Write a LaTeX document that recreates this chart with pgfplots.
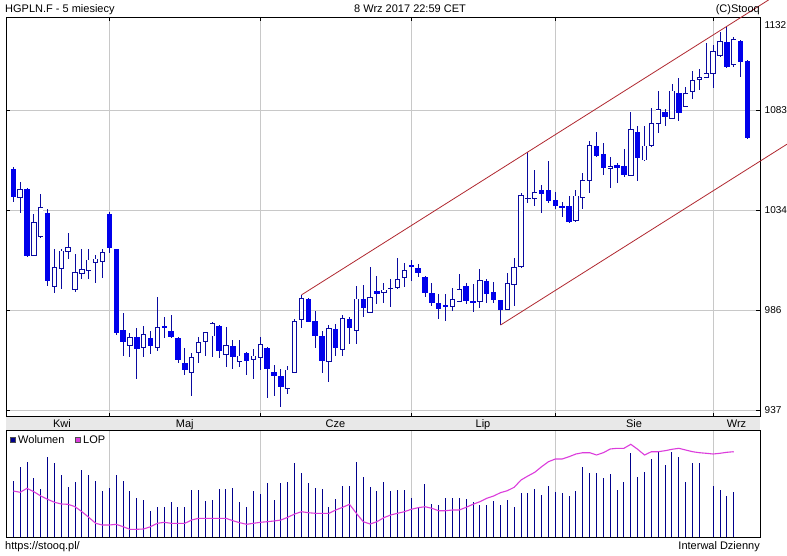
\documentclass[border=0pt]{standalone}
\usepackage{fontspec}
\setmainfont{Liberation Sans}
\usepackage{pgfplots}
\usepackage{pgfplotstable}
\pgfplotsset{compat=1.18}

\definecolor{wick}{RGB}{10,10,160}
\definecolor{bodyfill}{RGB}{0,0,235}
\definecolor{chan}{RGB}{176,40,48}
\definecolor{gridc}{RGB}{200,200,200}
\definecolor{volc}{RGB}{0,0,140}
\definecolor{lopc}{RGB}{220,60,220}
\definecolor{strip}{RGB}{232,232,232}
\newcommand\lbl{\fontsize{11}{13}\selectfont}
\newcommand\tlbl{\fontsize{10}{12}\selectfont}

% i = session index, o h l c = open high low close
\pgfplotstableread{
i o h l c
0 1054.3 1055.6 1038.5 1040.7
1 1040.7 1048.3 1033.2 1044.6
2 1044.6 1045.1 1011.7 1012.2
3 1012.2 1032.6 1011.9 1028.5
4 1021.5 1042.2 1021.0 1035.8
5 1033.2 1034.8 997.4 1000.0
6 997.4 1015.3 993.9 1006.6
7 1006.1 1015.3 995.8 1014.5
8 1014.5 1023.4 1010.8 1016.3
9 995.8 1013.0 994.7 1003.9
10 1003.6 1015.3 1000.7 1005.6
11 1005.2 1015.3 1000.7 1010.1
12 1009.0 1012.6 998.8 1010.6
13 1009.5 1015.3 1001.2 1013.9
14 1032.6 1033.7 1013.4 1015.8
15 1015.3 1015.7 973.6 974.4
16 976.0 984.4 963.5 970.0
17 968.3 974.7 963.0 972.4
18 972.4 976.8 952.1 966.6
19 967.4 977.9 963.0 973.6
20 972.0 975.5 964.2 968.3
21 967.6 991.9 965.9 977.3
22 977.9 982.2 972.2 977.1
23 975.5 983.3 972.0 972.7
24 972.0 972.4 960.1 961.4
25 960.1 967.1 954.1 956.5
26 955.4 964.9 943.8 962.7
27 964.9 972.7 960.1 970.0
28 970.3 975.2 963.3 974.7
29 973.1 979.8 963.0 979.3
30 977.9 978.4 962.5 965.9
31 964.3 977.6 957.8 968.2
32 968.2 971.1 956.8 963.0
33 960.5 971.1 958.1 963.3
34 964.9 965.4 954.1 961.0
35 961.7 966.6 952.3 963.3
36 962.7 972.4 956.5 968.7
37 967.1 967.5 942.7 956.8
38 955.4 958.9 943.8 953.7
39 953.6 956.8 938.6 948.4
40 947.6 958.4 944.7 956.5
41 955.4 981.2 955.0 980.0
42 981.2 993.1 976.8 991.5
43 991.1 991.5 979.8 980.0
44 980.4 985.3 967.4 973.2
45 973.1 975.7 954.9 961.0
46 960.5 978.4 950.8 976.8
47 976.5 978.9 963.3 967.4
48 966.6 983.3 963.3 981.7
49 981.4 982.2 969.2 977.1
50 976.0 997.4 969.2 991.1
51 991.1 997.9 982.5 986.9
52 984.6 1006.9 984.3 991.9
53 995.0 1002.3 988.5 993.4
54 994.2 999.1 989.0 995.5
55 996.3 1000.7 987.4 996.4
56 996.6 1011.2 995.8 1000.7
57 1001.7 1008.5 997.1 1005.2
58 1007.7 1010.1 1000.0 1006.9
59 1006.1 1008.2 1002.0 1003.6
60 1001.7 1002.3 992.2 993.9
61 993.9 999.1 987.8 989.0
62 989.0 993.5 981.4 986.1
63 988.2 993.4 980.5 987.4
64 987.4 996.6 985.3 991.0
65 990.1 1003.3 989.8 995.8
66 997.4 998.8 988.7 990.3
67 990.1 998.3 984.6 989.0
68 989.8 1005.7 986.6 999.9
69 999.9 1000.9 989.0 993.4
70 994.5 999.3 989.0 990.6
71 990.6 990.8 978.4 985.7
72 986.2 1003.6 985.7 998.8
73 998.3 1011.0 987.7 1006.6
74 1006.9 1042.6 1006.2 1041.5
75 1040.2 1062.6 1037.8 1040.3
76 1040.2 1054.0 1036.6 1043.1
77 1044.3 1046.7 1032.9 1042.2
78 1044.3 1058.4 1038.1 1039.0
79 1039.4 1043.4 1034.8 1036.6
80 1036.2 1038.5 1031.2 1036.0
81 1036.4 1041.3 1028.3 1028.8
82 1029.6 1044.3 1028.6 1041.3
83 1040.7 1052.4 1034.8 1048.8
84 1048.8 1068.1 1042.6 1065.8
85 1065.7 1072.7 1060.2 1061.0
86 1061.7 1067.2 1051.6 1054.8
87 1054.8 1060.2 1045.1 1055.9
88 1056.4 1057.6 1047.5 1054.8
89 1055.9 1064.1 1050.4 1051.6
90 1051.2 1082.4 1050.9 1073.5
91 1072.4 1075.4 1048.8 1059.7
92 1058.9 1075.4 1058.5 1065.7
93 1066.2 1084.1 1065.1 1076.8
94 1076.8 1092.5 1072.2 1083.3
95 1082.1 1083.6 1075.4 1080.0
96 1079.2 1095.9 1078.7 1092.5
97 1091.4 1098.7 1078.0 1081.9
98 1084.9 1094.6 1084.6 1091.4
99 1092.5 1102.4 1088.5 1097.5
100 1098.2 1103.1 1093.0 1099.2
101 1099.2 1115.8 1099.0 1101.1
102 1101.1 1114.9 1094.1 1111.7
103 1109.7 1121.4 1108.9 1116.5
104 1116.3 1123.6 1103.6 1104.4
105 1105.5 1118.7 1104.4 1117.7
106 1116.9 1117.4 1099.2 1106.8
107 1107.1 1107.6 1069.0 1069.5
}\candles

% volume and open interest (LOP)
\pgfplotstableread{
i v lop
0 56 46.0
1 70 44.7
2 75 48.7
3 59 45.3
4 48 41.0
5 80 37.7
6 74 34.7
7 62 33.0
8 50 32.7
9 55 30.3
10 67 25.3
11 62 19.7
12 56 13.7
13 46 12.0
14 49 12.0
15 62 12.7
16 56 10.3
17 46 7.7
18 39 7.7
19 37 8.0
20 26 10.3
21 30 13.7
22 30 14.7
23 35 13.7
24 30 13.7
25 30 13.7
26 47 17.0
27 47 18.7
28 36 18.7
29 37 18.7
30 48 18.7
31 48 18.7
32 49 16.3
33 35 14.3
34 30 12.7
35 46 13.7
36 43 14.7
37 54 15.3
38 37 16.0
39 54 17.0
40 55 19.7
41 74 23.0
42 64 25.3
43 54 24.3
44 49 23.7
45 48 23.7
46 30 23.7
47 38 27.0
48 51 29.7
49 51 32.7
50 75 23.7
51 60 15.3
52 50 13.0
53 46 15.3
54 55 19.3
55 46 22.0
56 47 23.7
57 47 25.3
58 39 27.7
59 30 29.3
60 53 30.3
61 33 28.7
62 32 26.3
63 39 26.3
64 39 27.0
65 39 27.0
66 38 29.7
67 35 32.7
68 32 35.3
69 32 38.7
70 36 41.0
71 32 44.3
72 37 46.3
73 30 49.7
74 44 57.0
75 44 61.0
76 48 64.7
77 42 70.3
78 51 75.3
79 45 78.0
80 44 78.0
81 41 80.3
82 46 83.0
83 70 84.3
84 64 84.3
85 64 82.0
86 59 84.3
87 63 88.0
88 47 88.7
89 55 88.7
90 84 92.7
91 60 87.7
92 65 82.0
93 78 85.3
94 85 85.3
95 72 86.3
96 85 87.7
97 80 88.7
98 55 87.0
99 74 85.3
100 74 84.3
101 nan 83.7
102 51 83.0
103 47 83.7
104 41 84.7
105 45 85.3
}\vol

\begin{document}
\begin{tikzpicture}[x=1pt,y=1pt]
\useasboundingbox (0,0) rectangle (787,555);
\fill[white] (0,0) rectangle (787,555);
\fill[strip] (6,125) rectangle (760,138.5);

\begin{axis}[
  at={(6pt,138.5pt)}, anchor=south west,
  scale only axis, width=754pt, height=399.5pt,
  xmin=-1.064, xmax=108.83, ymin=933.83, ymax=1128.59,
  clip=false,
  axis line style={line width=0.8pt},
  xtick={14,36,58,79,102}, xticklabels={},
  ytick={937,985.75,1034.5,1083.25},
  yticklabels={\mbox{937},\mbox{986},\mbox{1034},\mbox{1083}},
  yticklabel pos=right,
  yticklabel style={anchor=west, inner sep=0pt, xshift=4.5pt, font=\tlbl},
  grid=major, grid style={gridc, line width=0.8pt},
  tick style={black, line width=0.6pt},
  major tick length=4pt, tick align=inside,
]
% wicks
\addplot[draw=none, mark=none, forget plot,
  error bars/.cd, y dir=both, y explicit, error mark=none,
  error bar style={line width=0.9pt, draw=wick, solid}]
  table[x=i, y expr={(\thisrow{h}+\thisrow{l})/2},
        y error expr={(\thisrow{h}-\thisrow{l})/2}] {\candles};
% rising sessions: outline, then white inside
\addplot[draw=none, mark=none, forget plot,
  restrict expr to domain={\thisrow{c}-\thisrow{o}}{0:1000},
  error bars/.cd, y dir=both, y explicit, error mark=none,
  error bar style={line width=5.4pt, draw=wick, solid}]
  table[x=i, y expr={(\thisrow{o}+\thisrow{c})/2},
        y error expr={(\thisrow{c}-\thisrow{o})/2+0.25}] {\candles};
\addplot[draw=none, mark=none, forget plot,
  restrict expr to domain={\thisrow{c}-\thisrow{o}}{0:1000},
  error bars/.cd, y dir=both, y explicit, error mark=none,
  error bar style={line width=3.6pt, draw=white, solid}]
  table[x=i, y expr={(\thisrow{o}+\thisrow{c})/2},
        y error expr={max((\thisrow{c}-\thisrow{o})/2-0.2,0)}] {\candles};
% falling sessions: filled
\addplot[draw=none, mark=none, forget plot,
  restrict expr to domain={\thisrow{o}-\thisrow{c}}{0.01:1000},
  error bars/.cd, y dir=both, y explicit, error mark=none,
  error bar style={line width=5.4pt, draw=bodyfill, solid}]
  table[x=i, y expr={(\thisrow{o}+\thisrow{c})/2},
        y error expr={max((\thisrow{o}-\thisrow{c})/2,0.4)}] {\candles};
% trend channel
\addplot[chan, line width=0.8pt, mark=none] coordinates {(42,993.1) (110.08,1136.9)};
\addplot[chan, line width=0.8pt, mark=none] coordinates {(71,978.4) (112.77,1066.6)};
\end{axis}

\begin{axis}[
  at={(6pt,18pt)}, anchor=south west,
  scale only axis, width=754pt, height=107pt,
  xmin=-1.064, xmax=108.83, ymin=0, ymax=107,
  axis line style={line width=0.8pt},
  xtick={14,36,58,79,102}, xticklabels={}, ytick=\empty,
  xmajorgrids, grid style={gridc, line width=0.8pt},
  major tick length=0pt,
]
\addplot[ycomb, volc, line width=1pt, mark=none] table[x=i, y=v] {\vol};
\addplot[lopc, line width=1.1pt, mark=none] table[x=i, y=lop] {\vol};
\end{axis}

\begin{scope}[every node/.style={inner sep=0pt, font=\lbl}]
\node[anchor=base west] at (5,542) {HGPLN.F - 5 miesiecy};
\node[anchor=base] at (410,542) {8 Wrz 2017 22:59 CET};
\node[anchor=base east] at (760,542) {(C)Stooq};
\node[anchor=west, font=\tlbl] at (764.5,530) {1132};
\node[anchor=base] at (62,128) {Kwi};
\node[anchor=base] at (184.7,128) {Maj};
\node[anchor=base] at (335.5,128) {Cze};
\node[anchor=base] at (483,128) {Lip};
\node[anchor=base] at (634,128) {Sie};
\node[anchor=base] at (736.5,128) {Wrz};
\filldraw[fill=volc, draw=black!70, line width=0.5pt] (10,112.5) rectangle (15.5,118);
\node[anchor=base west] at (18,112) {Wolumen};
\filldraw[fill=lopc, draw=black!70, line width=0.5pt] (75,112.5) rectangle (80.5,118);
\node[anchor=base west] at (83,112) {LOP};
\node[anchor=base west] at (5,6) {https://stooq.pl/};
\node[anchor=base east] at (760,6) {Interwal Dzienny};
\end{scope}
\end{tikzpicture}
\end{document}
